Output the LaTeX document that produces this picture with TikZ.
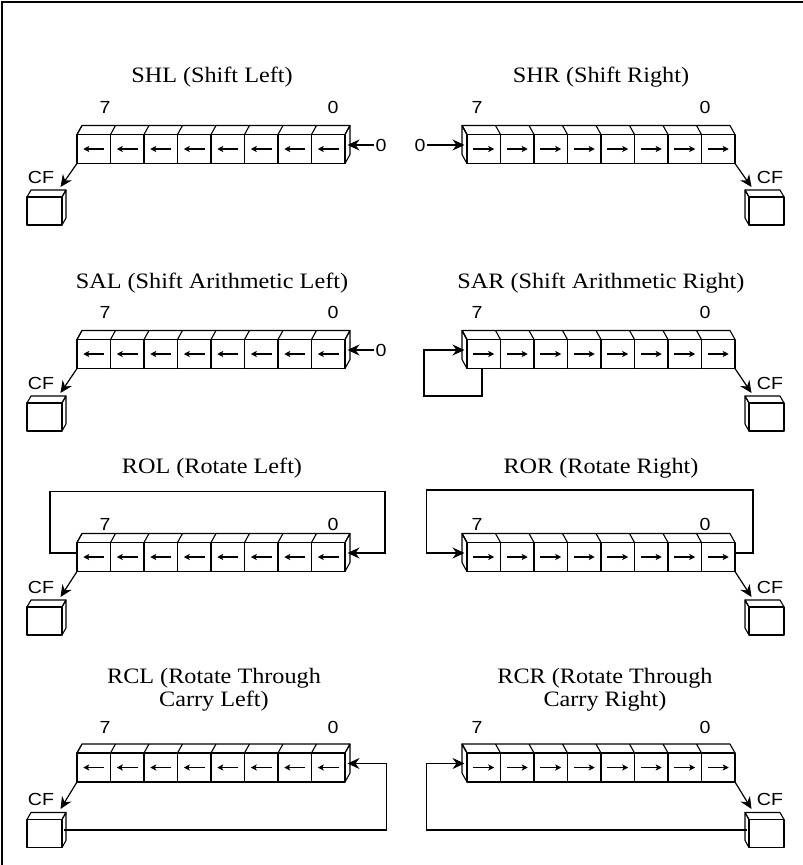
\documentclass[tikz,border=0pt]{standalone}
\usepackage{fontspec}
\setmainfont{Liberation Serif}
\newfontfamily\tfont{Liberation Serif}[FakeStretch=1.1]
\newfontfamily\lfont{Liberation Sans}[FakeStretch=1.12]
\usetikzlibrary{arrows.meta}

\tikzset{
 boxline/.style={line width=1.1pt, line join=round},
 cellarrow/.style={line width=1.2pt,-{Stealth[length=6pt,width=6pt,inset=1.5pt]}},
 bigarrow/.style={line width=1.2pt,-{Stealth[length=12pt,width=11pt,inset=4pt]}},
 title/.style={font=\tfont\fontsize{22}{23}\selectfont, align=center, inner sep=0pt},
 bitlabel/.style={font=\lfont\fontsize{17.5}{18}\selectfont, inner sep=1pt},
}

% name, x0, yc, depth dx, arrow direction (+1 right, -1 left)
\newcommand\register[5]{%
  \pgfmathsetmacro\ryt{#3-14.5}%
  \pgfmathsetmacro\ryb{#3+14.5}%
  \pgfmathsetmacro\rxe{#2+268}%
  \pgfmathsetmacro\rxs{#4>0 ? \rxe : #2}%
  \draw[boxline] (#2,\ryt) -- ++(#4,-9) -- ({\rxe+#4},{\ryt-9}) -- (\rxe,\ryt);
  \draw[boxline] (\rxs,\ryt) -- ++(#4,-9) -- ++(0,29) -- (\rxs,\ryb);
  \foreach \i in {0,...,7}{
    \pgfmathsetmacro\rcx{#2+\i*33.5}
    \draw[boxline] (\rcx,\ryt) rectangle ++(33.5,29);
    \draw[boxline] (\rcx,\ryt) -- ++(#4,-9);
    \draw[cellarrow] ({\rcx+16.75-10.5*#5},#3) -- ({\rcx+16.75+10.5*#5},#3);
  }
  \coordinate (#1-bl) at (#2,\ryb);
  \coordinate (#1-br) at (\rxe,\ryb);
  \coordinate (#1-fl) at (#2,{#3-4});
  \coordinate (#1-fr) at (\rxe,{#3-4});
  \coordinate (#1-side) at ({\rxs+#4/2},{#3-4});
}

% name, x0, ytop of front face, depth dx
\newcommand\cfbox[4]{%
  \pgfmathsetmacro\cxe{#2+35}%
  \pgfmathsetmacro\cxs{#4>0 ? \cxe : #2}%
  \draw[boxline] (#2,#3) rectangle ++(35,28);
  \draw[boxline] (#2,#3) -- ++(#4,-7) -- ++(35,0) -- (\cxe,#3);
  \draw[boxline] (\cxs,#3) -- ++(#4,-7) -- ++(0,28) -- (\cxs,{#3+28});
  \coordinate (#1-side) at ({\cxs+#4/2},{#3+10.5});
}

\begin{document}
\begin{tikzpicture}[x=1pt,y=-1pt]
\useasboundingbox (0,0) rectangle (803,865);
\draw[line width=1.1pt] (2,865) -- (2,2) -- (803,2);

% ---------- Row 1 ----------
\node[title] (tSHL) at (212,77) {SHL (Shift Left)};
\node[title] (tSHR) at (601,77) {SHR (Shift Right)};
\register{A}{77}{149}{5}{-1}
\register{B}{467}{149}{-5}{1}
\node[bitlabel] (A7) at (105,107) {7};
\node[bitlabel] (A0) at (333,107) {0};
\node[bitlabel] (B7) at (477,107) {7};
\node[bitlabel] (B0) at (705,107) {0};
\node[bitlabel] (Ain) at (381,145) {0};
\draw[bigarrow] (Ain.west) -- (A-side);
\node[bitlabel] (Bin) at (420,145) {0};
\draw[bigarrow] (Bin.east) -- (B-side);
\node[bitlabel] (Acf) at (41,177) {CF};
\cfbox{AC}{27}{197}{4}
\coordinate (Atip) at (60.5,187);
\draw[bigarrow] (A-bl) -- (Atip);
\node[bitlabel] (Bcf) at (770,177) {CF};
\cfbox{BC}{749}{197}{-4}
\coordinate (Btip) at (751.5,187);
\draw[bigarrow] (B-br) -- (Btip);

% ---------- Row 2 ----------
\node[title] (tSAL) at (212,283) {SAL (Shift Arithmetic Left)};
\node[title] (tSAR) at (601,283) {SAR (Shift Arithmetic Right)};
\register{C}{77}{354}{5}{-1}
\register{D}{467}{354}{-5}{1}
\node[bitlabel] (C7) at (105,312) {7};
\node[bitlabel] (C0) at (333,312) {0};
\node[bitlabel] (D7) at (477,312) {7};
\node[bitlabel] (D0) at (705,312) {0};
\node[bitlabel] (Cin) at (381,350) {0};
\draw[bigarrow] (Cin.west) -- (C-side);
\coordinate (D7b) at (482,368.5);
\draw[bigarrow] (D7b) -- (482,396) -| (424,350) -- (D-side);
\node[bitlabel] (Ccf) at (41,383) {CF};
\cfbox{CC}{27}{403}{4}
\coordinate (Ctip) at (60.5,393);
\draw[bigarrow] (C-bl) -- (Ctip);
\node[bitlabel] (Dcf) at (770,383) {CF};
\cfbox{DC}{749}{403}{-4}
\coordinate (Dtip) at (751.5,393);
\draw[bigarrow] (D-br) -- (Dtip);

% ---------- Row 3 ----------
\node[title] (tROL) at (212,468) {ROL (Rotate Left)};
\node[title] (tROR) at (601,468) {ROR (Rotate Right)};
\register{E}{77}{557}{5}{-1}
\register{F}{467}{557}{-5}{1}
\node[bitlabel] (E7) at (105,524) {7};
\node[bitlabel] (E0) at (333,524) {0};
\node[bitlabel] (F7) at (477,524) {7};
\node[bitlabel] (F0) at (705,524) {0};
\draw[bigarrow] (E-fl) -- (50,553) |- (385,491.5) |- (E-side);
\draw[bigarrow] (F-fr) -- (753,553) |- (426.7,490) |- (F-side);
\node[bitlabel] (Ecf) at (41,587) {CF};
\cfbox{EC}{27}{607}{4}
\coordinate (Etip) at (60.5,597);
\draw[bigarrow] (E-bl) -- (Etip);
\node[bitlabel] (Fcf) at (770,587) {CF};
\cfbox{FC}{749}{607}{-4}
\coordinate (Ftip) at (751.5,597);
\draw[bigarrow] (F-br) -- (Ftip);

% ---------- Row 4 ----------
\node[title] (tRCL) at (214,689.5) {RCL (Rotate Through\\Carry Left)};
\node[title] (tRCR) at (605,689.5) {RCR (Rotate Through\\Carry Right)};
\register{G}{77}{767.5}{5}{-1}
\register{H}{467}{767.5}{-5}{1}
\node[bitlabel] (G7) at (105,727) {7};
\node[bitlabel] (G0) at (333,727) {0};
\node[bitlabel] (H7) at (477,727) {7};
\node[bitlabel] (H0) at (705,727) {0};
\node[bitlabel] (Gcf) at (41,799) {CF};
\cfbox{GC}{27}{819.5}{4}
\coordinate (Gtip) at (60.5,809);
\draw[bigarrow] (G-bl) -- (Gtip);
\node[bitlabel] (Hcf) at (770,799) {CF};
\cfbox{HC}{749}{819.5}{-4}
\coordinate (Htip) at (751.5,809);
\draw[bigarrow] (H-br) -- (Htip);
\draw[bigarrow] (GC-side) -| (386.7,763.5) -- (G-side);
\draw[bigarrow] (HC-side) -| (426.7,763.5) -- (H-side);
\end{tikzpicture}
\end{document}
